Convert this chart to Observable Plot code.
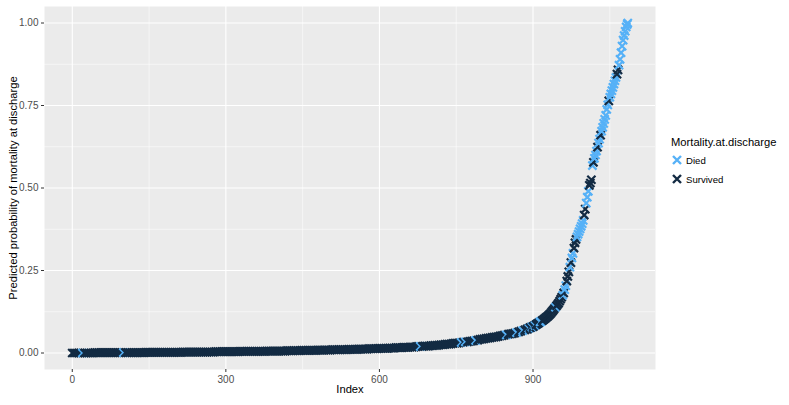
<!DOCTYPE html>
<html><head><meta charset="utf-8">
<script src="https://cdn.jsdelivr.net/npm/d3@7"></script>
<script src="https://cdn.jsdelivr.net/npm/@observablehq/plot@0.6"></script>
<style>
body{margin:0;background:#fff;font-family:"Liberation Sans",Arial,sans-serif;}
#wrap{position:relative;width:789px;height:405px;overflow:hidden}
#legend{position:absolute;left:671px;top:136px;color:#000;font-family:"Liberation Sans",Arial,sans-serif}
.lt{position:absolute;left:0;top:0;white-space:nowrap;font-size:11.2px}
.lr{position:absolute;left:0;white-space:nowrap;display:flex;align-items:center;font-size:9.6px}
.lr svg{margin-right:3px}
</style></head><body>
<div id="wrap"><div id="chart"></div><div id="legend"></div></div>
<script>
const index = [
0,4,8,12,16,20,24,28,32,36,40,44,48,52,56,60,64,68,72,76,80,84,88,92,96,
100,104,108,112,116,120,124,128,132,136,140,144,148,152,156,160,164,168,172,176,180,184,188,192,196,
200,204,208,212,216,220,224,228,232,236,240,244,248,252,256,260,264,268,272,276,280,284,288,292,296,
300,304,308,312,316,320,324,328,332,336,340,344,348,352,356,360,364,368,372,376,380,384,388,392,396,
400,404,408,412,416,420,424,428,432,436,440,444,448,452,456,460,464,468,472,476,480,484,488,492,496,
500,504,508,512,516,520,524,528,532,536,540,544,548,552,556,560,564,568,572,576,580,584,588,592,596,
600,604,608,612,616,620,624,628,632,636,640,644,648,652,656,660,664,668,672,676,680,684,688,692,696,
700,704,708,712,716,720,724,728,732,736,740,744,748,752,756,760,764,768,772,776,780,784,788,792,796,
800,804,808,812,816,820,824,828,832,836,840,844,848,852,856,860,864,868,872,876,880,884,888,
890,892,894,896,898,900,902,904,906,908,910,912,914,916,918,920,922,924,926,928,930,932,934,936,938,940,942,944,946,948,950,952,954,956,958,960,
962,964,966,968,970,972,974,976,978,980,982,984,986,988,990,992,994,996,998,1000,1002,1004,1006,1008,1010,1012,1014,1016,1018,1020,
1022,1024,1026,1028,1030,1032,1034,1036,1038,1040,1042,1044,1046,1048,1050,1052,1054,1056,1058,1060,1062,1064,1066,1068,1070,1072,1074,1076,1078,1080,1082,1084,1085];
const prob = [
0.000,0.000,0.000,0.000,0.000,0.000,0.000,0.000,0.000,0.000,0.000,0.001,0.001,0.001,0.001,0.001,0.001,0.001,0.001,0.001,0.001,0.001,0.001,0.001,0.001,
0.001,0.001,0.001,0.001,0.001,0.001,0.001,0.001,0.001,0.001,0.001,0.002,0.002,0.002,0.002,0.002,0.002,0.002,0.002,0.002,0.002,0.002,0.002,0.002,0.002,
0.002,0.002,0.002,0.002,0.003,0.003,0.003,0.003,0.003,0.003,0.003,0.003,0.003,0.003,0.003,0.003,0.003,0.003,0.003,0.003,0.004,0.004,0.004,0.004,0.004,
0.004,0.004,0.004,0.004,0.004,0.004,0.004,0.005,0.005,0.005,0.005,0.005,0.005,0.005,0.005,0.005,0.005,0.005,0.005,0.005,0.006,0.006,0.006,0.006,0.006,
0.006,0.006,0.006,0.006,0.006,0.007,0.007,0.007,0.007,0.007,0.007,0.007,0.008,0.008,0.008,0.008,0.008,0.008,0.008,0.008,0.009,0.009,0.009,0.009,0.009,
0.009,0.009,0.010,0.010,0.010,0.010,0.010,0.010,0.010,0.010,0.011,0.011,0.011,0.011,0.011,0.012,0.012,0.012,0.012,0.012,0.013,0.013,0.013,0.013,0.013,
0.014,0.014,0.014,0.014,0.014,0.015,0.015,0.015,0.016,0.016,0.016,0.016,0.017,0.017,0.017,0.018,0.018,0.018,0.019,0.020,0.020,0.020,0.021,0.021,0.021,
0.022,0.022,0.023,0.023,0.024,0.025,0.025,0.026,0.027,0.027,0.028,0.029,0.030,0.030,0.031,0.032,0.033,0.034,0.034,0.035,0.036,0.037,0.038,0.039,0.041,
0.042,0.043,0.044,0.045,0.046,0.047,0.048,0.049,0.050,0.052,0.053,0.054,0.055,0.057,0.058,0.059,0.060,0.062,0.064,0.066,0.068,0.070,0.072,
0.073,0.075,0.077,0.078,0.079,0.080,0.082,0.084,0.086,0.088,0.090,0.092,0.094,0.096,0.098,0.100,0.103,0.105,0.108,0.110,0.113,0.116,0.119,0.123,0.127,0.131,0.135,0.139,0.143,0.147,0.151,0.157,0.163,0.169,0.175,0.182,
0.192,0.204,0.218,0.232,0.246,0.260,0.274,0.288,0.302,0.318,0.334,0.344,0.352,0.360,0.368,0.376,0.384,0.392,0.402,0.418,0.436,0.454,0.472,0.490,0.508,0.515,0.525,0.568,0.578,0.590,
0.600,0.612,0.624,0.636,0.648,0.660,0.672,0.684,0.696,0.708,0.720,0.738,0.752,0.764,0.775,0.785,0.795,0.805,0.815,0.825,0.835,0.845,0.858,0.872,0.890,0.910,0.930,0.948,0.962,0.975,0.988,0.996,1.000];
const diedIndex = [20,100,680,760,768,788,848,868,880,892,898,904,914,916,944,958,962,964,972,976,978,986,988,990,992,994,996,998,1004,1006,1008,1016,1020,1022,1024,1028,1030,1034,1036,1038,1040,1042,1044,1046,1050,1052,1054,1056,1058,1060,1062,1068,1070,1072,1074,1076,1078,1080,1082,1084,1085];
const categories = ["Died","Survived"];
const colors = ["#56B1F7","#132B43"];
const xTicks = [0,300,600,900];
const xMinor = [150,450,750,1050];
const yTicks = [0,0.25,0.5,0.75,1];
const yMinor = [0.125,0.375,0.625,0.875];
const yTickLabels = ["0.00","0.25","0.50","0.75","1.00"];
const xTitle = "Index";
const yTitle = "Predicted probability of mortality at discharge";
const legendTitle = "Mortality.at.discharge";

const diedSet = new Set(diedIndex);
const rows = index.map((i,k)=>({index:i, p:prob[k], outcome: diedSet.has(i) ? categories[0] : categories[1]}));

const chart = Plot.plot({
  width:789, height:405, marginLeft:44, marginRight:134, marginTop:6, marginBottom:36,
  x:{domain:[-54.25,1139.25]},
  y:{domain:[-0.05,1.05]},
  color:{domain:categories, range:colors},
  style:{fontFamily:"'Liberation Sans', Arial, sans-serif", background:"white"},
  marks:[
    Plot.frame({fill:"#EBEBEB", stroke:null}),
    Plot.ruleX(xMinor,{stroke:"white",strokeWidth:0.55}),
    Plot.ruleY(yMinor,{stroke:"white",strokeWidth:0.55}),
    Plot.ruleX(xTicks,{stroke:"white",strokeWidth:1.1}),
    Plot.ruleY(yTicks,{stroke:"white",strokeWidth:1.1}),
    Plot.axisX({ticks:xTicks, tickSize:3, tickPadding:3, fontSize:10, fill:"#4D4D4D", stroke:"#333333", label:null}),
    Plot.axisY({ticks:yTicks, tickSize:3, tickPadding:3, fontSize:10, fill:"#4D4D4D", stroke:"#333333", label:null, tickFormat:(d)=>yTickLabels[yTicks.indexOf(d)]}),
    Plot.text([xTitle],{frameAnchor:"bottom", dy:23, fontSize:11.2, fill:"black"}),
    Plot.text([yTitle],{frameAnchor:"left", dx:-31, rotate:-90, textAnchor:"middle", fontSize:11.2, fill:"black"}),
    Plot.dot(rows,{x:"index", y:"p", stroke:"outcome", symbol:"times", r:3.8, strokeWidth:2.2})
  ]
});
document.getElementById("chart").appendChild(chart);

const leg = document.getElementById("legend");
const t = document.createElement("div"); t.className="lt"; t.textContent=legendTitle; leg.appendChild(t);
categories.forEach((c,i)=>{
  const r = document.createElement("div"); r.className="lr"; r.style.top=(18+i*19)+"px";
  r.innerHTML = `<svg width="12" height="12"><path d="M2,2L10,10M2,10L10,2" stroke="${colors[i]}" stroke-width="2.4"/></svg><span>${c}</span>`;
  leg.appendChild(r);
});
</script>
</body></html>
